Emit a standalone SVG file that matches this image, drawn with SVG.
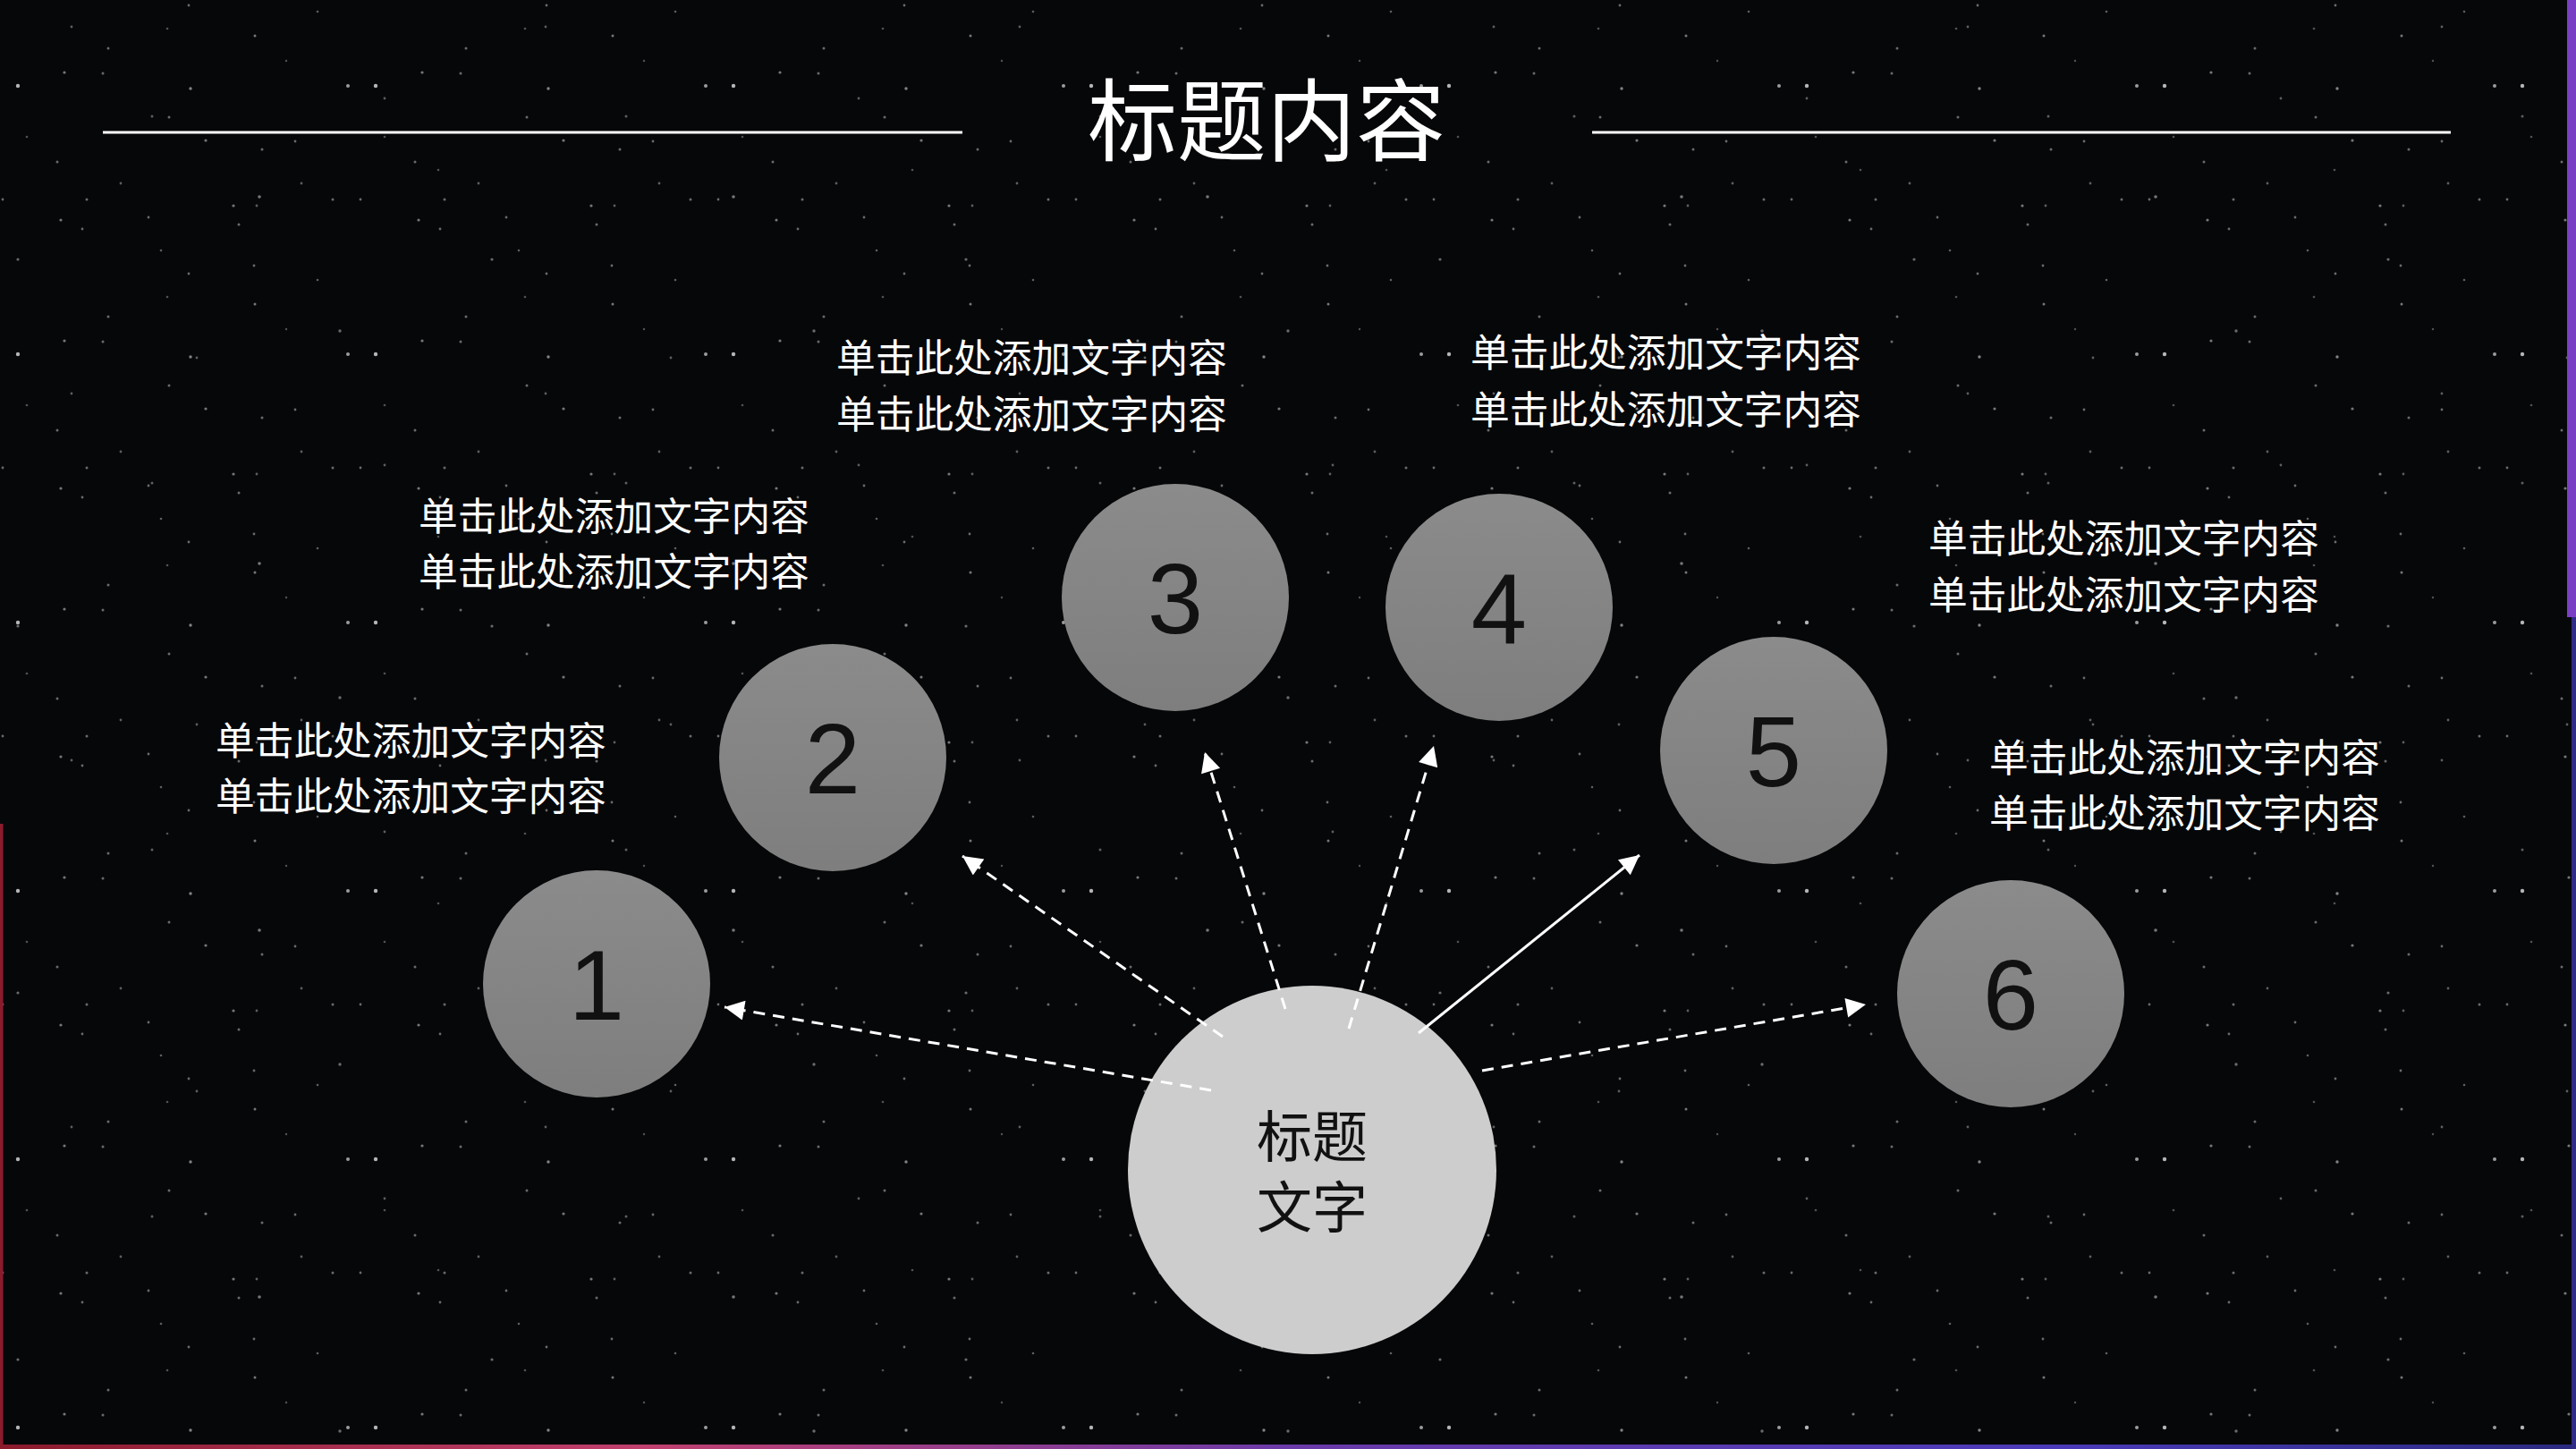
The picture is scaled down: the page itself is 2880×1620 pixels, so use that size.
<svg xmlns="http://www.w3.org/2000/svg" width="2880" height="1620" viewBox="0 0 2880 1620">
<style>
.cap{font-family:"Noto Sans CJK SC","Noto Sans",sans-serif;font-size:43.7px;fill:#ffffff;}
.title{font-family:"Noto Sans CJK SC","Noto Sans",sans-serif;font-size:100px;fill:#ffffff;}
.ctext{font-family:"Noto Sans CJK SC","Noto Sans",sans-serif;font-size:62px;fill:#111111;}
.num{font-family:"Liberation Sans","Noto Sans",sans-serif;font-size:112px;fill:#111111;}
.node{fill:url(#ng);}
.hub{fill:#cdcdcd;}
.conn{stroke:#ffffff;stroke-width:3;fill:none;marker-end:url(#ah);}
.dash{stroke-dasharray:13 9;}
.rule{stroke:#ffffff;stroke-width:3;}
</style>
<defs>
<linearGradient id="ng" x1="0" y1="0" x2="0" y2="1">
<stop offset="0" stop-color="#8b8b8b"/>
<stop offset="1" stop-color="#7e7e7e"/>
</linearGradient>
<linearGradient id="bottomg" x1="0" y1="0" x2="1" y2="0">
<stop offset="0" stop-color="#8b1a2b"/>
<stop offset="0.25" stop-color="#c0406e"/>
<stop offset="0.5" stop-color="#6a3aa8"/>
<stop offset="0.8" stop-color="#4a3ab8"/>
<stop offset="1" stop-color="#2a2a80"/>
</linearGradient>
<marker id="ah" viewBox="0 0 10 10" refX="10" refY="5" markerWidth="26" markerHeight="22" markerUnits="userSpaceOnUse" orient="auto">
<path d="M0,0 L10,5 L0,10 z" fill="#ffffff"/>
</marker>
<pattern id="stars" x="0" y="0" width="400" height="300" patternUnits="userSpaceOnUse">
<g fill="#ffffff">
<circle cx="20" cy="96" r="2.2" opacity="0.7"/>
<circle cx="72" cy="81" r="1.6" opacity="0.45"/>
<circle cx="115" cy="82" r="1.5" opacity="0.4"/>
<circle cx="121" cy="54" r="1.5" opacity="0.4"/>
<circle cx="213" cy="99" r="1.7" opacity="0.5"/>
<circle cx="189" cy="131" r="1.5" opacity="0.4"/>
<circle cx="285" cy="40" r="1.5" opacity="0.45"/>
<circle cx="389" cy="96" r="2" opacity="0.6"/>
<circle cx="64" cy="181" r="1.5" opacity="0.4"/>
<circle cx="135" cy="205" r="1.4" opacity="0.35"/>
<circle cx="97" cy="223" r="1.5" opacity="0.4"/>
<circle cx="68" cy="246" r="1.6" opacity="0.45"/>
<circle cx="166" cy="243" r="1.4" opacity="0.4"/>
<circle cx="261" cy="230" r="1.6" opacity="0.45"/>
<circle cx="287" cy="230" r="1.4" opacity="0.35"/>
<circle cx="267" cy="251" r="1.5" opacity="0.4"/>
<circle cx="330" cy="158" r="1.4" opacity="0.4"/>
<circle cx="337" cy="205" r="1.4" opacity="0.35"/>
<circle cx="293" cy="167" r="1.5" opacity="0.4"/>
<circle cx="230" cy="157" r="1.6" opacity="0.45"/>
<circle cx="30" cy="153" r="1.3" opacity="0.3"/>
<circle cx="372" cy="223" r="1.5" opacity="0.4"/>
<circle cx="355" cy="13" r="1.3" opacity="0.35"/>
<circle cx="211" cy="6" r="1.4" opacity="0.4"/>
<circle cx="187" cy="32" r="1.3" opacity="0.3"/>
<circle cx="320" cy="68" r="1.2" opacity="0.3"/>
<circle cx="3" cy="223" r="1.4" opacity="0.4"/>
<circle cx="92" cy="256" r="1.4" opacity="0.4"/>
<circle cx="180" cy="280" r="1.3" opacity="0.35"/>
<circle cx="284" cy="297" r="1.4" opacity="0.4"/>
</g>
</pattern>
<pattern id="stars2" x="130" y="70" width="530" height="410" patternUnits="userSpaceOnUse">
<g fill="#ffffff">
<circle cx="40" cy="60" r="1.5" opacity="0.35"/>
<circle cx="160" cy="150" r="1.8" opacity="0.45"/>
<circle cx="300" cy="40" r="1.4" opacity="0.35"/>
<circle cx="420" cy="220" r="1.6" opacity="0.4"/>
<circle cx="90" cy="330" r="1.4" opacity="0.35"/>
<circle cx="250" cy="300" r="1.7" opacity="0.4"/>
<circle cx="480" cy="370" r="1.4" opacity="0.35"/>
<circle cx="360" cy="120" r="1.3" opacity="0.3"/>
</g>
</pattern>
</defs>

<g id="background">
<rect x="0" y="0" width="2880" height="1620" fill="#060709"/>
<rect x="0" y="0" width="2880" height="1620" fill="url(#stars)"/>
<rect x="0" y="0" width="2880" height="1620" fill="url(#stars2)"/>
<rect x="0" y="921" width="3.5" height="699" fill="#8b1a2b"/>
<rect x="0" y="1615" width="2880" height="5" fill="url(#bottomg)"/>
<rect x="2870" y="0" width="10" height="690" fill="#7a40c4"/>
<rect x="2875" y="690" width="5" height="930" fill="#2e2c86"/>
</g>

<g id="header">
<line class="rule" x1="115" y1="148" x2="1076" y2="148"/>
<line class="rule" x1="1780" y1="148" x2="2740" y2="148"/>
<text class="title" x="1416" y="172" text-anchor="middle">标题内容</text>
</g>

<g id="hub">
<circle class="hub" cx="1467" cy="1308" r="206"/>
<text class="ctext" text-anchor="middle"><tspan x="1467" y="1294">标题</tspan><tspan x="1467" y="1373">文字</tspan></text>
</g>

<g id="connectors">
<line class="conn dash" x1="1354" y1="1219" x2="810" y2="1126"/>
<line class="conn dash" x1="1367" y1="1159" x2="1076" y2="957"/>
<line class="conn dash" x1="1437" y1="1128" x2="1347" y2="841"/>
<line class="conn dash" x1="1508" y1="1150" x2="1603" y2="834"/>
<line class="conn" x1="1586" y1="1155" x2="1833" y2="956"/>
<line class="conn dash" x1="1657" y1="1197" x2="2086" y2="1123"/>
</g>

<g id="node1">
<circle class="node" cx="667" cy="1100" r="127"/>
<text class="num" x="667" y="1140" text-anchor="middle">1</text>
</g>
<g id="node2">
<circle class="node" cx="931" cy="847" r="127"/>
<text class="num" x="931" y="887" text-anchor="middle">2</text>
</g>
<g id="node3">
<circle class="node" cx="1314" cy="668" r="127"/>
<text class="num" x="1314" y="708" text-anchor="middle">3</text>
</g>
<g id="node4">
<circle class="node" cx="1676" cy="679" r="127"/>
<text class="num" x="1676" y="719" text-anchor="middle">4</text>
</g>
<g id="node5">
<circle class="node" cx="1983" cy="839" r="127"/>
<text class="num" x="1983" y="879" text-anchor="middle">5</text>
</g>
<g id="node6">
<circle class="node" cx="2248" cy="1111" r="127"/>
<text class="num" x="2248" y="1151" text-anchor="middle">6</text>
</g>

<g id="label1">
<text class="cap" x="241" y="844">单击此处添加文字内容</text>
<text class="cap" x="241" y="906">单击此处添加文字内容</text>
</g>
<g id="label2">
<text class="cap" x="468" y="593">单击此处添加文字内容</text>
<text class="cap" x="468" y="655">单击此处添加文字内容</text>
</g>
<g id="label3">
<text class="cap" x="935" y="416">单击此处添加文字内容</text>
<text class="cap" x="935" y="479">单击此处添加文字内容</text>
</g>
<g id="label4">
<text class="cap" x="1644" y="410">单击此处添加文字内容</text>
<text class="cap" x="1644" y="474">单击此处添加文字内容</text>
</g>
<g id="label5">
<text class="cap" x="2156" y="618">单击此处添加文字内容</text>
<text class="cap" x="2156" y="681">单击此处添加文字内容</text>
</g>
<g id="label6">
<text class="cap" x="2224" y="863">单击此处添加文字内容</text>
<text class="cap" x="2224" y="925">单击此处添加文字内容</text>
</g>
</svg>
